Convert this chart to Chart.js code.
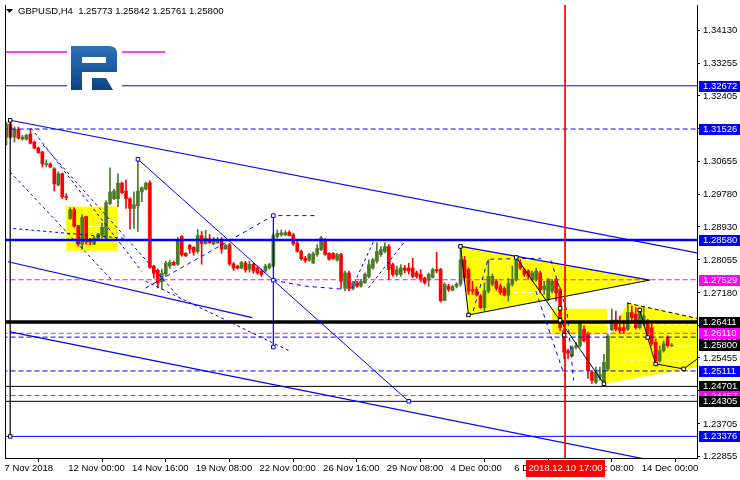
<!DOCTYPE html>
<html>
<head>
<meta charset="utf-8">
<script src="https://cdn.jsdelivr.net/npm/chart.js@4.4.1/dist/chart.umd.min.js"></script>
<style>
  html, body { margin: 0; padding: 0; background: #fff; }
  #chart { display: block; }
</style>
</head>
<body>
<canvas id="chart" width="740" height="480"></canvas>
<script>
// GBPUSD H4 candles, bar index 0 = 7 Nov 2018 08:00
const opens = [
  1.3131,1.3165,1.3131,1.3152,1.3126,1.3126,1.3139,1.3118,1.3102,1.3092,
  1.3058,1.3060,1.3047,1.3004,1.3034,1.2973,1.2915,1.2939,1.2897,1.2847,
  1.2921,1.2855,1.2847,1.2860,1.2871,1.2863,1.2955,1.2968,1.2968,1.3009,
  1.2988,1.2968,1.2942,1.2949,1.2986,1.2993,1.3010,1.2789,1.2778,1.2747,
  1.2768,1.2789,1.2799,1.2794,1.2868,1.2823,1.2844,1.2839,1.2828,1.2870,
  1.2849,1.2861,1.2848,1.2851,1.2860,1.2835,1.2846,1.2795,1.2789,1.2784,
  1.2797,1.2781,1.2794,1.2784,1.2776,1.2776,1.2784,1.2789,1.2868,1.2872,
  1.2872,1.2879,1.2872,1.2850,1.2828,1.2810,1.2805,1.2797,1.2820,1.2833,
  1.2860,1.2823,1.2823,1.2805,1.2820,1.2730,1.2771,1.2730,1.2745,1.2736,
  1.2745,1.2762,1.2784,1.2802,1.2820,1.2828,1.2841,1.2793,1.2767,1.2767,
  1.2784,1.2784,1.2784,1.2771,1.2767,1.2757,1.2752,1.2759,1.2780,1.2780,
  1.2698,1.2736,1.2725,1.2736,1.2741,1.2806,1.2780,1.2727,1.2727,1.2710,
  1.2679,1.2723,1.2741,1.2749,1.2736,1.2730,1.2712,1.2741,1.2754,1.2797,
  1.2780,1.2776,1.2754,1.2754,1.2771,1.2727,1.2701,1.2723,1.2754,1.2727,
  1.2618,1.2565,1.2551,1.2574,1.2578,1.2621,1.2610,1.2508,1.2481,1.2494,
  1.2481,1.2516,1.2620,1.2646,1.2626,1.2626,1.2622,1.2666,1.2662,1.2626,
  1.2635,1.2635,1.2626,1.2587,1.2538,1.2565,1.2600,1.25773
];
const highs = [
  1.3171,1.3176,1.3158,1.3158,1.3136,1.3139,1.3152,1.3121,1.3105,1.3093,
  1.3071,1.3063,1.3050,1.3039,1.3036,1.2981,1.2944,1.2944,1.2897,1.2926,
  1.2921,1.2863,1.2868,1.2876,1.2903,1.2963,1.3050,1.2993,1.3034,1.3012,
  1.3018,1.2970,1.2986,1.3073,1.2999,1.3012,1.3015,1.2791,1.2781,1.2781,
  1.2802,1.2805,1.2802,1.2865,1.2870,1.2825,1.2847,1.2841,1.2886,1.2881,
  1.2884,1.2873,1.2865,1.2865,1.2865,1.2847,1.2849,1.2799,1.2791,1.2802,
  1.2802,1.2802,1.2797,1.2789,1.2781,1.2794,1.2797,1.2876,1.2885,1.2885,
  1.2883,1.2883,1.2876,1.2855,1.2831,1.2815,1.2823,1.2826,1.2846,1.2868,
  1.2863,1.2825,1.2825,1.2823,1.2823,1.2776,1.2776,1.2749,1.2749,1.2754,
  1.2771,1.2806,1.2810,1.2851,1.2841,1.2851,1.2846,1.2797,1.2789,1.2793,
  1.2791,1.2797,1.2810,1.2776,1.2780,1.2760,1.2771,1.2784,1.2826,1.2783,
  1.2745,1.2741,1.2738,1.2745,1.2841,1.2815,1.2784,1.2749,1.2734,1.2714,
  1.2745,1.2806,1.2768,1.2754,1.2741,1.2734,1.2757,1.2789,1.2812,1.2806,
  1.2784,1.2780,1.2776,1.2784,1.2776,1.2749,1.2757,1.2754,1.2757,1.2732,
  1.2636,1.2569,1.2578,1.2587,1.2641,1.2631,1.2614,1.2512,1.2521,1.2521,
  1.2555,1.2609,1.2675,1.2670,1.2657,1.2646,1.2692,1.2683,1.2679,1.2675,
  1.2679,1.2648,1.2635,1.2596,1.2578,1.2591,1.2604,1.25842
];
const lows = [
  1.3110,1.3128,1.3118,1.3126,1.3123,1.3123,1.3113,1.3100,1.3088,1.3052,
  1.3052,1.3050,1.2988,1.3002,1.2968,1.2965,1.2913,1.2892,1.2842,1.2834,
  1.2847,1.2845,1.2846,1.2858,1.2863,1.2860,1.2952,1.2965,1.2947,1.2981,
  1.2942,1.2887,1.2889,1.2881,1.2960,1.2991,1.2783,1.2757,1.2731,1.2728,
  1.2762,1.2783,1.2791,1.2791,1.2815,1.2815,1.2823,1.2818,1.2823,1.2794,
  1.2847,1.2849,1.2846,1.2849,1.2823,1.2833,1.2791,1.2778,1.2781,1.2782,
  1.2773,1.2773,1.2770,1.2768,1.2762,1.2773,1.2781,1.2786,1.2863,1.2868,
  1.2870,1.2869,1.2844,1.2826,1.2805,1.2799,1.2802,1.2796,1.2815,1.2830,
  1.2818,1.2805,1.2807,1.2802,1.2730,1.2723,1.2723,1.2726,1.2733,1.2733,
  1.2743,1.2758,1.2781,1.2797,1.2815,1.2824,1.2754,1.2762,1.2762,1.2762,
  1.2771,1.2768,1.2758,1.2757,1.2747,1.2741,1.2736,1.2757,1.2771,1.2694,
  1.2697,1.2722,1.2723,1.2731,1.2736,1.2749,1.2714,1.2714,1.2710,1.2677,
  1.2670,1.2718,1.2736,1.2725,1.2714,1.2710,1.2696,1.2736,1.2749,1.2780,
  1.2762,1.2754,1.2749,1.2749,1.2718,1.2714,1.2697,1.2718,1.2697,1.2618,
  1.2543,1.2543,1.2549,1.2569,1.2574,1.2588,1.2491,1.2478,1.2477,1.2486,
  1.2477,1.2512,1.2618,1.2618,1.2610,1.2610,1.2618,1.2644,1.2622,1.2622,
  1.2631,1.2600,1.2578,1.2530,1.2534,1.2561,1.2574,1.25761
];
const closes = [
  1.3165,1.3131,1.3152,1.3128,1.3131,1.3136,1.3115,1.3102,1.3090,1.3060,
  1.3061,1.3052,1.3007,1.3034,1.2973,1.2971,1.2939,1.2895,1.2847,1.2918,
  1.2853,1.2853,1.2863,1.2874,1.2892,1.2957,1.2986,1.2988,1.3009,1.2984,
  1.2968,1.2942,1.2952,1.2988,1.2997,1.3009,1.2786,1.2770,1.2744,1.2770,
  1.2797,1.2799,1.2792,1.2860,1.2819,1.2816,1.2834,1.2826,1.2870,1.2849,
  1.2863,1.2851,1.2857,1.2859,1.2834,1.2844,1.2795,1.2784,1.2784,1.2799,
  1.2779,1.2794,1.2776,1.2771,1.2767,1.2789,1.2793,1.2870,1.2876,1.2877,
  1.2878,1.2870,1.2848,1.2828,1.2809,1.2804,1.2820,1.2822,1.2836,1.2864,
  1.2820,1.2807,1.2809,1.2820,1.2749,1.2771,1.2730,1.2745,1.2736,1.2749,
  1.2767,1.2793,1.2806,1.2828,1.2833,1.2841,1.2780,1.2767,1.2780,1.2784,
  1.2778,1.2776,1.2762,1.2762,1.2754,1.2745,1.2767,1.2780,1.2776,1.2697,
  1.2741,1.2727,1.2735,1.2741,1.2806,1.2758,1.2723,1.2723,1.2714,1.2679,
  1.2723,1.2762,1.2762,1.2730,1.2719,1.2712,1.2743,1.2754,1.2806,1.2784,
  1.2767,1.2762,1.2771,1.2776,1.2727,1.2736,1.2754,1.2749,1.2718,1.2626,
  1.2561,1.2558,1.2574,1.2578,1.2637,1.2591,1.2512,1.2486,1.2508,1.2502,
  1.2534,1.2604,1.2646,1.2622,1.2618,1.2618,1.2666,1.2653,1.2626,1.2666,
  1.2657,1.2609,1.2584,1.2538,1.2565,1.2583,1.2578,1.25800
];

// time axis
const timeTickBars = [0, 16, 32, 48, 64, 80, 96, 112, 128, 144, 160];
const timeTickText = ['7 Nov 2018', '12 Nov 00:00', '14 Nov 16:00', '19 Nov 08:00', '22 Nov 00:00',
  '26 Nov 16:00', '29 Nov 08:00', '4 Dec 00:00', '6 Dec 16:00', '11 Dec 08:00', '14 Dec 00:00'];
const crossBar = 140.25;
const crossText = '2018.12.10 17:00';

// price axis
const priceTicks = [1.34130, 1.33255, 1.32405, 1.31530, 1.30655, 1.29780, 1.28930, 1.28055,
  1.27180, 1.26305, 1.25455, 1.24580, 1.23705, 1.22855];
const tagPrices = [1.32672, 1.31526, 1.28580, 1.27529, 1.26411, 1.26008, 1.26110, 1.25800,
  1.25111, 1.24701, 1.24457, 1.24305, 1.23376];
const tagColors = ['#0000ff', '#0000ff', '#0000ff', '#ff00ff', '#000000', '#0000ff', '#ff00ff', '#000000',
  '#0000ff', '#000000', '#ff00ff', '#000000', '#0000ff'];

// horizontal levels
const blueSolidLevels = [1.32672, 1.23376];
const blueDashLevels = [1.31526, 1.26008, 1.25111];
const magentaDashLevels = [1.27529, 1.26110, 1.24457];
const blackThinLevels = [1.24701, 1.24305];
const blueThickLevel = 1.28580;
const blackThickLevel = 1.26411;
const magentaShort = [[-1, 1.33569], [39.9, 1.33569]];

// drawn objects, [bar, price]
const channelTop = [[0.93, 1.31759], [184.2, 1.28020]];
const channelBottom = [[0.93, 1.26149], [173.4, 1.22498]];
const channelMid = [[0.4, 1.28006], [61.7, 1.26525]];
const vertBlack = [[0.93, 1.31759], [0.93, 1.23376]];
const diagBlue = [[33, 1.30724], [101, 1.24305]];
const vertBlue = [[67, 1.29230], [67, 1.25745]];
const fanA = [[6.2, 1.31548], [34, 1.27750]];
const fanC = [[9.2, 1.31101], [44.2, 1.26965]];
const fanD = [[0.9, 1.30390], [26.7, 1.27492]];
const fanE = [[1.7, 1.28888], [29.9, 1.28625]];
const fanF = [[34.9, 1.27307], [67, 1.29230], [78, 1.29230]];
const fanG = [[34.9, 1.27492], [70.9, 1.25648]];
const arcA = [[67, 1.27518], [75, 1.27360], [84.2, 1.27280]];
const riseA = [[86.7, 1.27300], [92.4, 1.28600]];
const riseB = [[90.9, 1.27310], [100.4, 1.28600]];
const ringA = [[117.2, 1.26702], [120.9, 1.28072], [134.2, 1.28098]];
const ringB = [[136.7, 1.28045], [140.7, 1.26702], [142.4, 1.24857]];
const ringC = [[132.9, 1.27229], [136.7, 1.26043], [140.4, 1.24884]];
const zigA = [[128, 1.28120], [150, 1.24770]];
const zigB = [[159, 1.26728], [161, 1.25998], [163, 1.25297], [170, 1.25165], [175, 1.25550]];
const rightTop = [[155.9, 1.26910], [174.5, 1.26480]];
const whiteDash = [
  [[17, 1.28940], [24, 1.28940]],
  [[114.9, 1.28060], [133.4, 1.28060]],
  [[127.4, 1.27190], [136.7, 1.27190]],
  [[150, 1.26330], [174, 1.26330]],
  [[153, 1.25400], [174, 1.25400]]
];
const whiteSolid = [[152.5, 1.25780], [174, 1.25780]];

const rect1 = [[15, 1.29470], [27.9, 1.29470], [27.9, 1.28300], [15, 1.28300]];
const tri1 = [[114, 1.28413], [161.5, 1.27520], [116, 1.26596]];
const rect2 = [[137, 1.26762], [150.9, 1.26762], [150.9, 1.26087], [137, 1.26087]];
const rightPoly = [[150, 1.24770], [150.9, 1.25910], [155.9, 1.26910], [174.5, 1.26480], [174.5, 1.25230]];

const blackAnchors = [[0.93, 1.31759], [0.93, 1.23376], [114, 1.28413], [116, 1.26596], [128, 1.28120],
  [139, 1.26773], [139, 1.26456], [140, 1.26061], [150, 1.24770], [159, 1.26728], [161, 1.25998],
  [163, 1.25297], [170, 1.25165]];
const blueAnchors = [[33, 1.30724], [101, 1.24305], [67, 1.29230], [67, 1.27518], [67, 1.25745]];

const BULL = '#4b7a29', BEAR = '#ff0000', BLUE = '#0000ff', MAGENTA = '#ff00ff', YELLOW = '#ffff00';
const FONT = '"Liberation Sans", Arial, sans-serif';

const xy = pts => pts.map(([x, y]) => ({ x, y }));
function line(pts, color, width, dash, order) {
  return {
    type: 'line', data: xy(pts), borderColor: color, borderWidth: width,
    borderDash: dash || [], pointRadius: 0, fill: false, tension: 0, order: order == null ? 2 : order
  };
}
function level(p, color, width, dash) {
  return line([[-5, p], [190, p]], color, width, dash, 3);
}
function area(pts) {
  return {
    type: 'line', data: xy(pts.concat([pts[0]])), borderWidth: 0, pointRadius: 0,
    backgroundColor: YELLOW, fill: 'shape', tension: 0, order: 100
  };
}
function anchors(pts, color) {
  return {
    type: 'line', data: xy(pts), showLine: false, pointStyle: 'rect', pointRadius: 2.5,
    pointBackgroundColor: '#fff', pointBorderColor: color, pointBorderWidth: 1, order: 0
  };
}

const candleColors = closes.map((c, i) => c >= opens[i] ? BULL : BEAR);
const dotted = [3, 3];

const datasets = [
  area(rect1), area(tri1), area(rect2), area(rightPoly),
  ...whiteDash.map(s => line(s, '#fff', 1, [4, 3], 90)),
  line(whiteSolid, '#fff', 1, [], 90),
  {
    type: 'bar', data: lows.map((l, i) => ({ x: i, y: [l, highs[i]] })),
    backgroundColor: candleColors, barThickness: 1, grouped: false, order: 11
  },
  {
    type: 'bar', data: opens.map((o, i) => ({ x: i, y: [o, closes[i]] })),
    backgroundColor: candleColors, barThickness: 3, minBarLength: 1, grouped: false, order: 10
  },
  ...blueSolidLevels.map(p => level(p, BLUE, 1)),
  ...blueDashLevels.map(p => level(p, BLUE, 1, [5, 3])),
  ...magentaDashLevels.map(p => level(p, MAGENTA, 1, [5, 3])),
  ...blackThinLevels.map(p => level(p, '#000', 1)),
  level(blueThickLevel, BLUE, 2.5),
  level(blackThickLevel, '#000', 3.5),
  line(magentaShort, MAGENTA, 1.5),
  line(channelTop, BLUE, 1.2),
  line(channelBottom, BLUE, 1.2),
  line(channelMid, BLUE, 1.2),
  line(vertBlack, '#000', 1.2),
  line(diagBlue, BLUE, 1),
  line(vertBlue, BLUE, 1.2),
  line(fanA, BLUE, 1, dotted),
  line(fanC, BLUE, 1, dotted),
  line(fanD, BLUE, 1, dotted),
  line(fanE, BLUE, 1, dotted),
  line(fanF, BLUE, 1, [4, 4]),
  line(fanG, BLUE, 1, dotted),
  line(arcA, BLUE, 1, [4, 4]),
  line(riseA, BLUE, 1, dotted),
  line(riseB, BLUE, 1, dotted),
  line(ringA, BLUE, 1, [4, 4]),
  line(ringB, BLUE, 1, [4, 4]),
  line(ringC, BLUE, 1, [4, 4]),
  line([tri1[0], tri1[1]], BLUE, 1.2),
  line([tri1[1], tri1[2], tri1[0]], '#000', 1),
  line(zigA, '#000', 1),
  line(zigB, '#000', 1),
  line(rightTop, '#000', 1, [4, 3]),
  line([[crossBar, 1.40], [crossBar, 1.20]], BEAR, 1, [], 1),
  anchors(blackAnchors, '#000'),
  anchors(blueAnchors, BLUE)
];

const overlay = {
  id: 'overlay',
  afterDraw(chart) {
    const { ctx, chartArea: a, scales: { x, y } } = chart;
    ctx.save();
    // left frame
    ctx.fillStyle = '#000';
    ctx.fillRect(a.left, a.top, 1, a.bottom - a.top);

    // price tags
    ctx.font = '9.5px ' + FONT;
    ctx.textBaseline = 'middle';
    ctx.textAlign = 'left';
    tagPrices.forEach((p, i) => {
      const py = Math.round(y.getPixelForValue(p));
      ctx.fillStyle = tagColors[i];
      ctx.fillRect(a.right + 2, py - 5, 41, 11);
      ctx.fillStyle = '#fff';
      ctx.fillText(p.toFixed(5), a.right + 6, py + 0.5);
    });

    // crosshair time tag
    const cx = Math.round(x.getPixelForValue(crossBar));
    ctx.fillStyle = BEAR;
    ctx.fillRect(cx - 39, a.bottom + 2, 79, 17);
    ctx.fillStyle = '#fff';
    ctx.textAlign = 'center';
    ctx.fillText(crossText, cx + 0.5, a.bottom + 10.5);

    // symbol line
    ctx.fillStyle = '#000';
    ctx.beginPath();
    ctx.moveTo(6, 9); ctx.lineTo(13, 9); ctx.lineTo(9.5, 13); ctx.closePath(); ctx.fill();
    ctx.textAlign = 'left';
    ctx.fillText('GBPUSD,H4  1.25773 1.25842 1.25761 1.25800', 18, 11);

    // logo
    ctx.fillStyle = '#fff';
    ctx.fillRect(67, 40, 55, 56);
    const g = ctx.createLinearGradient(0, 45, 0, 90);
    g.addColorStop(0, '#2d72bb');
    g.addColorStop(1, '#0b4686');
    ctx.fillStyle = g;
    ctx.beginPath();
    ctx.moveTo(71, 46); ctx.lineTo(109, 46); ctx.quadraticCurveTo(117, 46, 117, 54);
    ctx.lineTo(117, 72); ctx.lineTo(82, 72); ctx.lineTo(82, 90); ctx.lineTo(71, 90); ctx.closePath();
    ctx.moveTo(82, 57); ctx.lineTo(106, 57); ctx.lineTo(106, 63); ctx.lineTo(82, 63); ctx.closePath();
    ctx.moveTo(92, 78); ctx.lineTo(106, 78); ctx.lineTo(113, 90); ctx.lineTo(92, 90); ctx.closePath();
    ctx.fill('evenodd');
    ctx.restore();
  }
};

new Chart(document.getElementById('chart'), {
  type: 'bar',
  data: { datasets },
  options: {
    responsive: false,
    animation: false,
    devicePixelRatio: 1,
    layout: { padding: { top: 2, left: 2, right: 0, bottom: 0 } },
    plugins: { legend: { display: false }, tooltip: { enabled: false } },
    scales: {
      x: {
        type: 'linear', offset: false, min: -0.375, max: 173.375,
        afterBuildTicks: s => { s.ticks = timeTickBars.map(v => ({ value: v })); },
        afterFit: s => { s.height = 22; s.paddingLeft = 0; s.paddingRight = 0; },
        ticks: {
          autoSkip: false, maxRotation: 0, align: 'start', padding: 1, labelOffset: -2, color: '#000',
          font: { family: FONT, size: 9.5 },
          callback: v => timeTickText[timeTickBars.indexOf(v)]
        },
        grid: { drawOnChartArea: false, tickLength: 4, color: '#000' },
        border: { color: '#000' }
      },
      y: {
        type: 'linear', position: 'right', min: 1.228023, max: 1.348149,
        afterBuildTicks: s => { s.ticks = priceTicks.map(v => ({ value: v })); },
        afterFit: s => { s.width = 43; s.paddingTop = 0; s.paddingBottom = 0; },
        ticks: {
          autoSkip: false, padding: 3, color: '#000',
          font: { family: FONT, size: 9.5 },
          callback: v => v.toFixed(5)
        },
        grid: { drawOnChartArea: false, tickLength: 3, color: '#000' },
        border: { color: '#000' }
      }
    }
  },
  plugins: [overlay]
});
</script>
</body>
</html>
